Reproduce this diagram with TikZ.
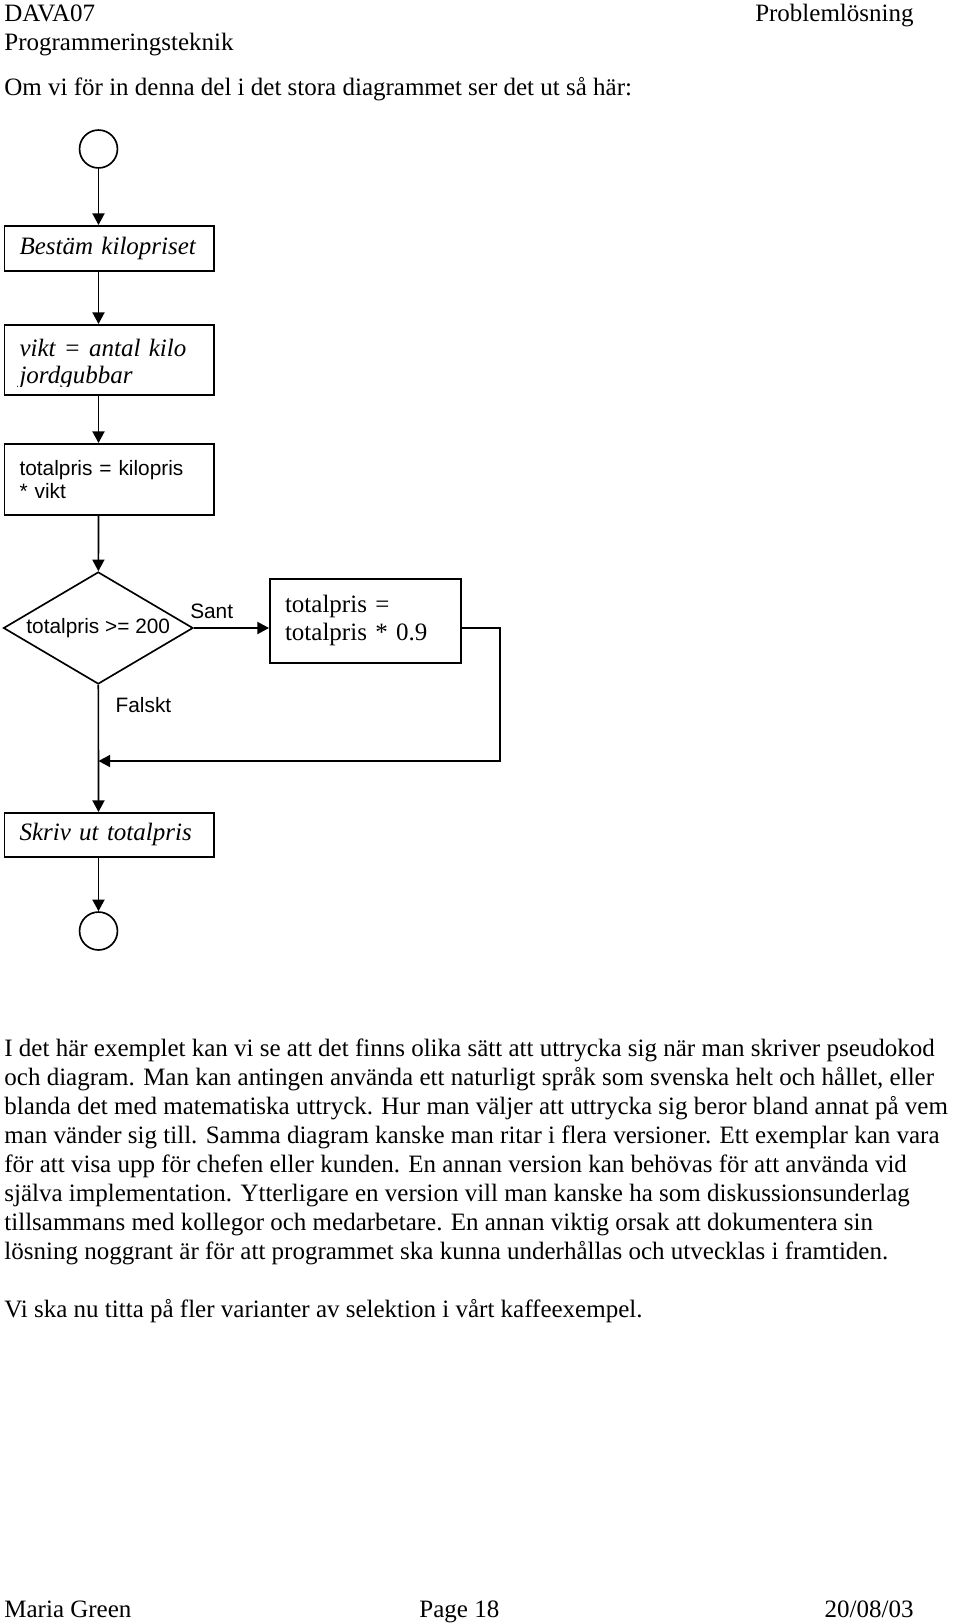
\documentclass[tikz,border=0pt]{standalone}
\usepackage{fontspec}
\setmainfont{Liberation Serif}
\newfontfamily\arialfont{Liberation Sans}
\usetikzlibrary{arrows.meta,positioning,shapes.geometric}

\begin{document}
\begin{tikzpicture}[
      x=0.48pt,y=-0.48pt,
      pagetext/.style={
        inner sep=0pt,
        anchor=base west,
        font=\fontsize{12}{13.9}\selectfont
      },
      procbox/.style={
        draw,
        line width=0.8pt,
        anchor=north west,
        minimum width=100.6pt,
        text width=86pt,
        inner xsep=7.3pt,
        inner ysep=0pt,
        align=left,
        execute at begin node={\hyphenpenalty=10000\relax}
      },
      serifit/.style={font=\itshape\fontsize{12}{13.4}\selectfont},
      serifup/.style={font=\fontsize{12}{13.4}\selectfont},
      arial/.style={font=\arialfont\fontsize{10}{11}\selectfont},
      endpoint/.style={draw,circle,line width=0.8pt,minimum size=18.2pt,inner sep=0pt},
      decision/.style={
        draw,
        diamond,
        aspect=1.69,
        line width=0.8pt,
        minimum width=91pt,
        minimum height=53.8pt,
        inner sep=0pt
      },
      flow/.style={line width=0.8pt,-{Triangle[length=5.6pt,width=5.8pt]}}
    ]
      \useasboundingbox (0,0) rectangle (960,1624);

      % page head
      \node[pagetext] (course) at (4,22) {DAVA07};
      \node[pagetext] (subject) at (4,50.5) {Programmeringsteknik};
      \node[pagetext,anchor=base east] (chapter) at (914,22) {Problemlösning};
      \node[pagetext] (intro) at (4,96) {Om vi för in denna del i det stora diagrammet ser det ut så här:};

      % flowchart
      \node[endpoint] (start) at (98.5,149) {};
      \node[procbox,serifit,minimum height=21.6pt] (bestam) at (3.5,225) {Bestäm kilopriset};
      \node[procbox,minimum height=33.6pt] (vikt) at (3.5,324) {};
      \begin{scope}
        \clip (vikt.north west) rectangle ([yshift=4.3pt]vikt.south east);
        \node[procbox,serifit,draw=none,anchor=center,yshift=-2pt] (vikttext) at (vikt.center)
          {vikt = antal kilo\\jordgubbar};
      \end{scope}
      \node[procbox,arial,minimum height=34pt] (kilo) at (3.5,443) {totalpris = kilopris\\{*} vikt};
      \node[decision,arial] (check) at (98.25,628) {totalpris >= 200};
      \node[procbox,serifup,minimum width=91.7pt,text width=77.1pt,minimum height=40.3pt] (rabatt) at (269,578)
        {totalpris =\\totalpris * 0.9};
      \node[procbox,serifit,minimum height=21.1pt] (skriv) at (3.5,812) {Skriv ut totalpris};
      \node[endpoint] (stop) at (98.5,931) {};
      \coordinate (join) at (98.5,761);

      \draw[flow] (start) -- (start |- bestam.north);
      \draw[flow] (start |- bestam.south) -- (start |- vikt.north);
      \draw[flow] (start |- vikt.south) -- (start |- kilo.north);
      \draw[flow] (start |- kilo.south) -- (check);
      \draw[flow] (check.east) -- node[arial,pos=0.237,anchor=base,inner sep=0pt,yshift=4.6pt] {Sant}
        (check.east -| rabatt.west);
      \draw[flow] (check) -- node[arial,pos=0.156,anchor=west,inner sep=0pt,xshift=7.9pt] {Falskt}
        (start |- skriv.north);
      \draw[flow] (check.east -| rabatt.east) -- ++(38,0) |- (join);
      \draw[flow] (start |- skriv.south) -- (stop);

      % text under the chart (base = last line)
      \node[pagetext,align=left] (body) at (4,1259) {I det här exemplet kan vi se att det finns olika sätt att uttrycka sig när man skriver pseudokod\\
        och diagram. Man kan antingen använda ett naturligt språk som svenska helt och hållet, eller\\
        blanda det med matematiska uttryck. Hur man väljer att uttrycka sig beror bland annat på vem\\
        man vänder sig till. Samma diagram kanske man ritar i flera versioner. Ett exemplar kan vara\\
        för att visa upp för chefen eller kunden. En annan version kan behövas för att använda vid\\
        själva implementation. Ytterligare en version vill man kanske ha som diskussionsunderlag\\
        tillsammans med kollegor och medarbetare. En annan viktig orsak att dokumentera sin\\
        lösning noggrant är för att programmet ska kunna underhållas och utvecklas i framtiden.};
      \node[pagetext] (outro) at (4,1317) {Vi ska nu titta på fler varianter av selektion i vårt kaffeexempel.};

      % page foot
      \node[pagetext] (author) at (4,1617) {Maria Green};
      \node[pagetext] (page) at (419,1617) {Page 18};
      \node[pagetext,anchor=base east] (date) at (914,1617) {20/08/03};
    \end{tikzpicture}
\end{document}
